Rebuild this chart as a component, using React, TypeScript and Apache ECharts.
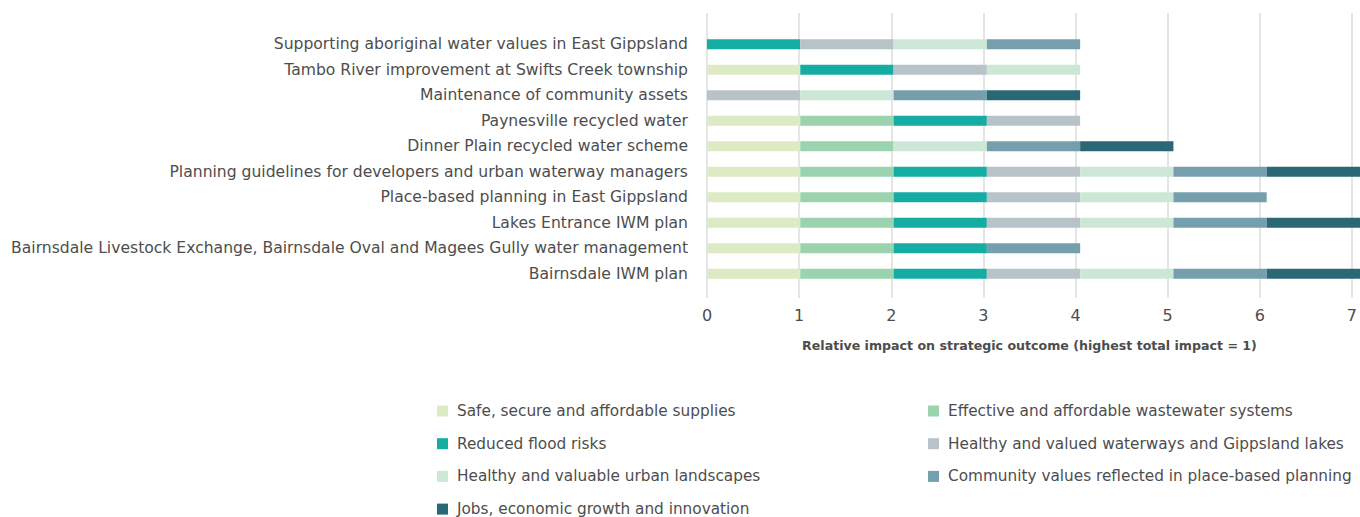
import React, { useEffect, useRef } from "react";
import * as echarts from "echarts";

const categories = [
  "Supporting aboriginal water values in East Gippsland",
  "Tambo River improvement at Swifts Creek township",
  "Maintenance of community assets",
  "Paynesville recycled water",
  "Dinner Plain recycled water scheme",
  "Planning guidelines for developers and urban waterway managers",
  "Place-based planning in East Gippsland",
  "Lakes Entrance IWM plan",
  "Bairnsdale Livestock Exchange, Bairnsdale Oval and Magees Gully water management",
  "Bairnsdale IWM plan",
];

const seriesNames = [
  "Safe, secure and affordable supplies",
  "Effective and affordable wastewater systems",
  "Reduced flood risks",
  "Healthy and valued waterways and Gippsland lakes",
  "Healthy and valuable urban landscapes",
  "Community values reflected in place-based planning",
  "Jobs, economic growth and innovation",
];

const safe = [0, 1, 0, 1, 1, 1, 1, 1, 1, 1];
const effective = [0, 0, 0, 1, 1, 1, 1, 1, 1, 1];
const flood = [1, 1, 0, 1, 0, 1, 1, 1, 1, 1];
const waterways = [1, 1, 1, 1, 0, 1, 1, 1, 0, 1];
const urban = [1, 1, 1, 0, 1, 1, 1, 1, 0, 1];
const community = [1, 0, 1, 0, 1, 1, 1, 1, 1, 1];
const jobs = [0, 0, 1, 0, 1, 1, 0, 1, 0, 1];

const seriesValues = [safe, effective, flood, waterways, urban, community, jobs];
const colors = ["#dcebc4", "#9bd3ae", "#15ada3", "#b8c3c9", "#cde7d6", "#769fad", "#2b6876"];

const xTicks = [0, 1, 2, 3, 4, 5, 6, 7];

const FONT = "DejaVu Sans";
const TEXT = "#4d4d4d";

export default function App() {
  const ref = useRef<HTMLDivElement>(null);
  useEffect(() => {
    if (!ref.current) return;
    const chart = echarts.init(ref.current, undefined, { renderer: "svg" });
    const legendText = { color: TEXT, fontSize: 15.3, lineHeight: 20, padding: [0, 0, 0, 4], fontFamily: FONT };
    const option: any = {
      animation: false,
      textStyle: { fontFamily: FONT },
      grid: [
        { left: 707, right: 0, top: 13, height: 285 },
        { left: 707, right: 0, top: 31.5, height: 255 },
      ],
      xAxis: [
        {
          type: "value",
          gridIndex: 0,
          min: xTicks[0],
          max: xTicks[xTicks.length - 1],
          interval: 1,
          axisLine: { show: false },
          axisTick: { show: false },
          splitLine: { show: true, lineStyle: { color: "#dcdcdc", width: 1.5 } },
          axisLabel: { color: TEXT, fontSize: 16, margin: 9, fontFamily: FONT },
          name: "Relative impact on strategic outcome (highest total impact = 1)",
          nameLocation: "middle",
          nameGap: 41,
          nameTextStyle: { color: TEXT, fontSize: 12.6, fontWeight: "bold", fontFamily: FONT },
        },
        {
          type: "value",
          gridIndex: 1,
          min: 0,
          max: 7,
          interval: 1,
          show: false,
          splitLine: { show: false },
        },
      ],
      yAxis: [
        {
          type: "category",
          gridIndex: 0,
          show: false,
          data: categories,
        },
        {
          type: "category",
          gridIndex: 1,
          data: categories,
          inverse: true,
          axisLine: { show: false },
          axisTick: { show: false },
          axisLabel: { color: TEXT, fontSize: 15.6, margin: 19, fontFamily: FONT },
        },
      ],
      legend: [
        {
          data: [seriesNames[0], seriesNames[2], seriesNames[4], seriesNames[6]],
          orient: "vertical",
          left: 432,
          top: 396,
          height: 200,
          itemWidth: 11,
          itemHeight: 11,
          itemGap: 12.7,
          icon: "rect",
          textStyle: legendText,
        },
        {
          data: [seriesNames[1], seriesNames[3], seriesNames[5]],
          orient: "vertical",
          left: 923,
          top: 396,
          height: 200,
          itemWidth: 11,
          itemHeight: 11,
          itemGap: 12.7,
          icon: "rect",
          textStyle: legendText,
        },
      ],
      series: seriesNames.map((name, i) => ({
        name,
        type: "bar",
        stack: "total",
        xAxisIndex: 1,
        yAxisIndex: 1,
        barWidth: 10,
        itemStyle: { color: colors[i] },
        data: seriesValues[i],
      })),
    };
    chart.setOption(option);
    return () => chart.dispose();
  }, []);
  return (
    <div
      ref={ref}
      style={{ position: "absolute", left: 0, top: 0, width: 1360, height: 517, background: "#fff" }}
    />
  );
}
